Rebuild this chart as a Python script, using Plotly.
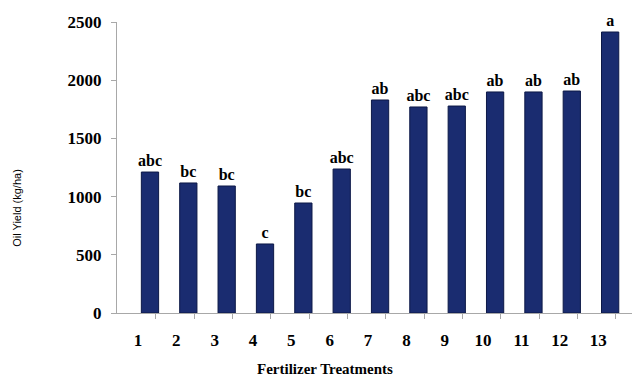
import plotly.graph_objects as go

treatments = ["1", "2", "3", "4", "5", "6", "7", "8", "9", "10", "11", "12", "13"]
oil_yield = [1211, 1117, 1091, 593, 945, 1237, 1830, 1770, 1778, 1899, 1899, 1907, 2414]
groups = ["abc", "bc", "bc", "c", "bc", "abc", "ab", "abc", "abc", "ab", "ab", "ab", "a"]
y_ticks = [0, 500, 1000, 1500, 2000, 2500]

xpos = list(range(1, len(treatments) + 1))

fig = go.Figure()
fig.add_trace(go.Bar(
    x=xpos, y=oil_yield, text=groups, textposition="outside",
    constraintext="none",
    textfont=dict(family="Liberation Serif", size=16, color="black", weight="bold"),
    marker=dict(color="#1a2c70", line=dict(color="#0c1846", width=1)),
    width=0.45, cliponaxis=False,
))

fig.update_layout(
    width=635, height=376,
    margin=dict(l=117, r=3, t=22, b=63),
    paper_bgcolor="white", plot_bgcolor="white",
    showlegend=False,
    bargap=0.5,
    font=dict(family="Liberation Serif", color="black"),
)
fig.update_xaxes(
    range=[0.14, 13.57],
    tickvals=xpos, ticktext=treatments,
    ticks="", showline=True, linecolor="#a8a8a8", linewidth=1,
    tickfont=dict(family="Liberation Serif", size=17, color="black", weight="bold"),
    ticklabelshift=-12, ticklabelstandoff=12,
    minor=dict(tickvals=[v + 0.15 for v in xpos], ticks="outside", ticklen=5, tickcolor="#a8a8a8"),
    showgrid=False, zeroline=False,
)
fig.update_yaxes(
    range=[0, 2500], tickvals=y_ticks,
    ticks="outside", ticklen=5, tickcolor="#a8a8a8",
    showline=True, linecolor="#a8a8a8", linewidth=1,
    tickfont=dict(family="Liberation Serif", size=17, color="black", weight="bold"),
    ticklabelstandoff=6,
    showgrid=False, zeroline=False,
)
fig.add_annotation(
    text="Fertilizer Treatments", xref="paper", yref="paper", x=0.404, y=-0.192,
    showarrow=False, xanchor="center", yanchor="middle",
    font=dict(family="Liberation Serif", size=15, color="black", weight="bold"),
)
fig.add_annotation(
    text="Oil Yield (kg/ha)", xref="paper", yref="paper", x=-0.193, y=0.36,
    textangle=-90, showarrow=False, xanchor="center", yanchor="middle",
    font=dict(family="Liberation Sans", size=11, color="black"),
)

fig.write_html("out.html")
